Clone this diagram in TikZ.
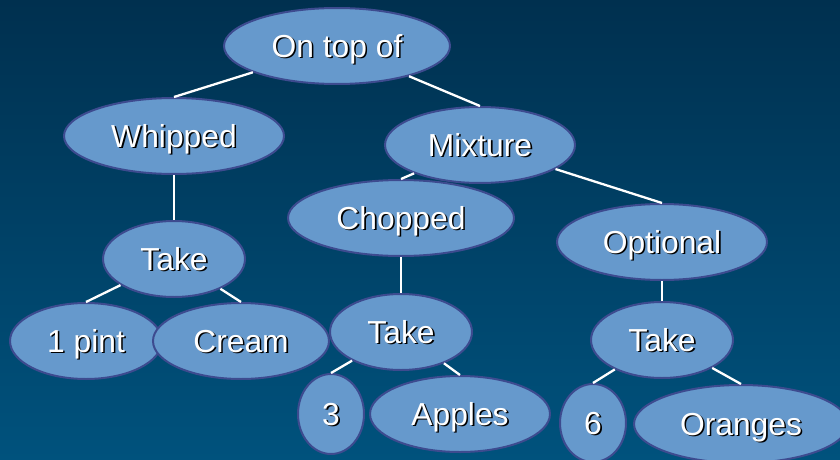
\documentclass[tikz,border=0pt]{standalone}
\usepackage{fontspec}
\setmainfont{Liberation Sans}
\usetikzlibrary{shapes.geometric}
\definecolor{bgtop}{HTML}{00304F}
\definecolor{bgbot}{HTML}{00527D}
\definecolor{nodefill}{HTML}{6699CC}
\definecolor{nodeline}{HTML}{3D4B8F}
\newcommand{\shtext}[1]{\makebox[0pt][l]{\hspace{1.6pt}\raisebox{-1.6pt}{\color{black}#1}}#1}
\tikzset{
  oval/.style={ellipse, draw=nodeline, line width=2pt, fill=nodefill, inner sep=0pt,
    text=white, font=\fontsize{31.8}{32}\selectfont, text height=22.5pt, text depth=0pt},
  conn/.style={draw=white, line width=2.3pt}
}
\begin{document}
\begin{tikzpicture}[x=1pt,y=-1pt]
\shade[top color=bgtop, bottom color=bgbot] (0,0) rectangle (840,460);
\useasboundingbox (0,0) rectangle (840,460);
\node[oval, minimum width=226pt, minimum height=76pt] (ont) at (337,46) {\shtext{On top of}};
\node[oval, minimum width=220pt, minimum height=76pt] (whip) at (174,136) {\shtext{Whipped}};
\node[oval, minimum width=190pt, minimum height=76pt] (mix) at (480,145) {\shtext{Mixture}};
\node[oval, minimum width=226pt, minimum height=76pt] (chop) at (401,218) {\shtext{Chopped}};
\node[oval, minimum width=210pt, minimum height=76pt] (opt) at (662,242) {\shtext{Optional}};
\node[oval, minimum width=142pt, minimum height=76pt] (take1) at (174,259) {\shtext{Take}};
\node[oval, minimum width=152pt, minimum height=76pt] (pint) at (86,341) {\shtext{1 pint}};
\node[oval, minimum width=176pt, minimum height=76pt] (cream) at (241,341) {\shtext{Cream}};
\node[oval, minimum width=142pt, minimum height=76pt] (take2) at (401,332) {\shtext{Take}};
\node[oval, minimum width=66pt, minimum height=80pt] (three) at (331,414) {\shtext{3}};
\node[oval, minimum width=180pt, minimum height=76pt] (apples) at (460,414) {\shtext{Apples}};
\node[oval, minimum width=142pt, minimum height=76pt] (take3) at (662,340) {\shtext{Take}};
\node[oval, minimum width=66pt, minimum height=78pt] (six) at (593,423) {\shtext{6}};
\node[oval, minimum width=214pt, minimum height=78pt] (oranges) at (741,424) {\shtext{Oranges}};
\draw[conn] (ont) -- (whip.north);
\draw[conn] (ont) -- (mix.north);
\draw[conn] (whip) -- (take1.north);
\draw[conn] (take1) -- (pint.north);
\draw[conn] (take1) -- (cream.north);
\draw[conn] (mix) -- (chop.north);
\draw[conn] (mix) -- (opt.north);
\draw[conn] (chop) -- (take2.north);
\draw[conn] (take2) -- (three.north);
\draw[conn] (take2) -- (apples.north);
\draw[conn] (opt) -- (take3.north);
\draw[conn] (take3) -- (six.north);
\draw[conn] (take3) -- (oranges.north);
\end{tikzpicture}
\end{document}
